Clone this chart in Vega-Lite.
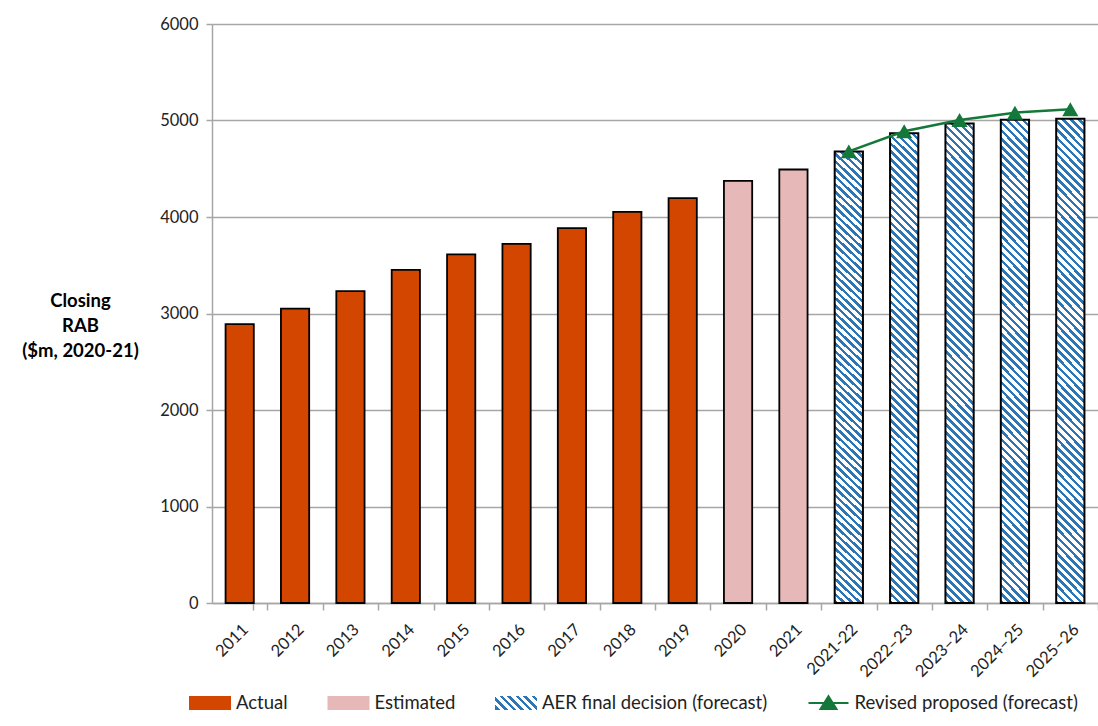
{
  "$schema": "https://vega.github.io/schema/vega-lite/v6.json",
  "width": 886,
  "height": 579,
  "autosize": {"type": "none"},
  "padding": {"left": 212, "top": 24, "right": 0, "bottom": 123},
  "background": "white",
  "config": {
    "view": {"stroke": null},
    "legend": {
      "orient": "none",
      "direction": "horizontal",
      "padding": 0,
      "symbolSize": 1600,
      "symbolStrokeWidth": 2,
      "symbolOpacity": 1,
      "labelFont": "Lato",
      "labelFontSize": 18.5,
      "labelColor": "#222222",
      "labelOffset": 5,
      "labelLimit": 400,
      "columnPadding": 36.5
    }
  },
  "data": {
    "values": [
      {"period": "2011", "value": 2890, "series": "Actual"},
      {"period": "2012", "value": 3050, "series": "Actual"},
      {"period": "2013", "value": 3232, "series": "Actual"},
      {"period": "2014", "value": 3453, "series": "Actual"},
      {"period": "2015", "value": 3612, "series": "Actual"},
      {"period": "2016", "value": 3722, "series": "Actual"},
      {"period": "2017", "value": 3884, "series": "Actual"},
      {"period": "2018", "value": 4054, "series": "Actual"},
      {"period": "2019", "value": 4195, "series": "Actual"},
      {"period": "2020", "value": 4375, "series": "Estimated"},
      {"period": "2021", "value": 4492, "series": "Estimated"},
      {"period": "2021-22", "value": 4679, "series": "AER final decision (forecast)"},
      {"period": "2022–23", "value": 4869, "series": "AER final decision (forecast)"},
      {"period": "2023–24", "value": 4969, "series": "AER final decision (forecast)"},
      {"period": "2024–25", "value": 5007, "series": "AER final decision (forecast)"},
      {"period": "2025–26", "value": 5018, "series": "AER final decision (forecast)"},
      {"period": "2021-22", "value": 4680, "series": "Revised proposed (forecast)"},
      {"period": "2022–23", "value": 4888, "series": "Revised proposed (forecast)"},
      {"period": "2023–24", "value": 5005, "series": "Revised proposed (forecast)"},
      {"period": "2024–25", "value": 5081, "series": "Revised proposed (forecast)"},
      {"period": "2025–26", "value": 5116, "series": "Revised proposed (forecast)"}
    ]
  },
  "encoding": {
    "x": {
      "field": "period",
      "type": "ordinal",
      "sort": ["2011","2012","2013","2014","2015","2016","2017","2018","2019","2020","2021","2021-22","2022–23","2023–24","2024–25","2025–26"],
      "scale": {"paddingInner": 0.49, "paddingOuter": 0.245},
      "axis": {
        "title": null,
        "labelAngle": -45,
        "tickOffset": 27.69,
        "labelOffset": -27.69,
        "tickExtra": true,
        "domainColor": "#a6a6a6",
        "domainWidth": 1.5,
        "tickColor": "#a6a6a6",
        "tickSize": 7,
        "tickWidth": 1.5,
        "labelFont": "Lato",
        "labelFontSize": 16.5,
        "labelColor": "#222222",
        "labelPadding": 11
      }
    },
    "y": {
      "field": "value",
      "type": "quantitative",
      "scale": {"domain": [0, 6000], "nice": false},
      "axis": {
        "title": ["Closing", "RAB", "($m, 2020-21)"],
        "titleAngle": 0,
        "titleFont": "Lato",
        "titleFontSize": 18.5,
        "titleFontWeight": "bold",
        "titleColor": "#000000",
        "titleX": -132,
        "titleY": 276,
        "titleAlign": "center",
        "titleBaseline": "middle",
        "titleLineHeight": 25,
        "values": [0, 1000, 2000, 3000, 4000, 5000, 6000],
        "format": "d",
        "grid": true,
        "gridColor": "#a6a6a6",
        "gridWidth": 1.5,
        "domainColor": "#a6a6a6",
        "domainWidth": 1.5,
        "tickColor": "#a6a6a6",
        "tickSize": 6,
        "tickWidth": 1.5,
        "labelFont": "Lato",
        "labelFontSize": 16.5,
        "labelColor": "#222222",
        "labelPadding": 8
      }
    }
  },
  "layer": [
    {
      "transform": [{"filter": "datum.series === 'Actual' || datum.series === 'Estimated'"}],
      "mark": {"type": "bar", "stroke": "#000000", "strokeWidth": 1.8},
      "encoding": {
        "color": {
          "field": "series",
          "type": "nominal",
          "scale": {
            "domain": ["Actual", "Estimated", "AER final decision (forecast)", "Revised proposed (forecast)"],
            "range": [
              "#d24600",
              "#e6b8b7",
              {"expr": "{gradient: 'linear', x1: 0, y1: 1, x2: 1.1927, y2: 0.6422, stops: [{offset: 0, color: '#2e75b6'}, {offset: 0.0692, color: '#2e75b6'}, {offset: 0.0692, color: '#ffffff'}, {offset: 0.1538, color: '#ffffff'}, {offset: 0.1538, color: '#2e75b6'}, {offset: 0.2231, color: '#2e75b6'}, {offset: 0.2231, color: '#ffffff'}, {offset: 0.3077, color: '#ffffff'}, {offset: 0.3077, color: '#2e75b6'}, {offset: 0.3769, color: '#2e75b6'}, {offset: 0.3769, color: '#ffffff'}, {offset: 0.4615, color: '#ffffff'}, {offset: 0.4615, color: '#2e75b6'}, {offset: 0.5308, color: '#2e75b6'}, {offset: 0.5308, color: '#ffffff'}, {offset: 0.6154, color: '#ffffff'}, {offset: 0.6154, color: '#2e75b6'}, {offset: 0.6846, color: '#2e75b6'}, {offset: 0.6846, color: '#ffffff'}, {offset: 0.7692, color: '#ffffff'}, {offset: 0.7692, color: '#2e75b6'}, {offset: 0.8385, color: '#2e75b6'}, {offset: 0.8385, color: '#ffffff'}, {offset: 0.9231, color: '#ffffff'}, {offset: 0.9231, color: '#2e75b6'}, {offset: 0.9923, color: '#2e75b6'}, {offset: 0.9923, color: '#ffffff'}, {offset: 1, color: '#ffffff'}]}"},
              "#14783a"
            ]
          }
        }
      }
    },
    {
      "transform": [{"filter": "datum.series === 'AER final decision (forecast)'"}],
      "mark": {
        "type": "bar",
        "stroke": "#000000",
        "strokeWidth": 2,
        "fill": {
          "gradient": "linear", "x1": 0, "y1": 1, "x2": 0.0628, "y2": -0.0558,
          "stops": [
            {"offset":0,"color":"#2e75b6"},{"offset":0.0071,"color":"#2e75b6"},{"offset":0.0071,"color":"#fff"},{"offset":0.0159,"color":"#fff"},
            {"offset":0.0159,"color":"#2e75b6"},{"offset":0.0230,"color":"#2e75b6"},{"offset":0.0230,"color":"#fff"},{"offset":0.0317,"color":"#fff"},
            {"offset":0.0317,"color":"#2e75b6"},{"offset":0.0389,"color":"#2e75b6"},{"offset":0.0389,"color":"#fff"},{"offset":0.0476,"color":"#fff"},
            {"offset":0.0476,"color":"#2e75b6"},{"offset":0.0548,"color":"#2e75b6"},{"offset":0.0548,"color":"#fff"},{"offset":0.0635,"color":"#fff"},
            {"offset":0.0635,"color":"#2e75b6"},{"offset":0.0706,"color":"#2e75b6"},{"offset":0.0706,"color":"#fff"},{"offset":0.0794,"color":"#fff"},
            {"offset":0.0794,"color":"#2e75b6"},{"offset":0.0865,"color":"#2e75b6"},{"offset":0.0865,"color":"#fff"},{"offset":0.0952,"color":"#fff"},
            {"offset":0.0952,"color":"#2e75b6"},{"offset":0.1024,"color":"#2e75b6"},{"offset":0.1024,"color":"#fff"},{"offset":0.1111,"color":"#fff"},
            {"offset":0.1111,"color":"#2e75b6"},{"offset":0.1183,"color":"#2e75b6"},{"offset":0.1183,"color":"#fff"},{"offset":0.1270,"color":"#fff"},
            {"offset":0.1270,"color":"#2e75b6"},{"offset":0.1341,"color":"#2e75b6"},{"offset":0.1341,"color":"#fff"},{"offset":0.1429,"color":"#fff"},
            {"offset":0.1429,"color":"#2e75b6"},{"offset":0.1500,"color":"#2e75b6"},{"offset":0.1500,"color":"#fff"},{"offset":0.1587,"color":"#fff"},
            {"offset":0.1587,"color":"#2e75b6"},{"offset":0.1659,"color":"#2e75b6"},{"offset":0.1659,"color":"#fff"},{"offset":0.1746,"color":"#fff"},
            {"offset":0.1746,"color":"#2e75b6"},{"offset":0.1817,"color":"#2e75b6"},{"offset":0.1817,"color":"#fff"},{"offset":0.1905,"color":"#fff"},
            {"offset":0.1905,"color":"#2e75b6"},{"offset":0.1976,"color":"#2e75b6"},{"offset":0.1976,"color":"#fff"},{"offset":0.2063,"color":"#fff"},
            {"offset":0.2063,"color":"#2e75b6"},{"offset":0.2135,"color":"#2e75b6"},{"offset":0.2135,"color":"#fff"},{"offset":0.2222,"color":"#fff"},
            {"offset":0.2222,"color":"#2e75b6"},{"offset":0.2294,"color":"#2e75b6"},{"offset":0.2294,"color":"#fff"},{"offset":0.2381,"color":"#fff"},
            {"offset":0.2381,"color":"#2e75b6"},{"offset":0.2452,"color":"#2e75b6"},{"offset":0.2452,"color":"#fff"},{"offset":0.2540,"color":"#fff"},
            {"offset":0.2540,"color":"#2e75b6"},{"offset":0.2611,"color":"#2e75b6"},{"offset":0.2611,"color":"#fff"},{"offset":0.2698,"color":"#fff"},
            {"offset":0.2698,"color":"#2e75b6"},{"offset":0.2770,"color":"#2e75b6"},{"offset":0.2770,"color":"#fff"},{"offset":0.2857,"color":"#fff"},
            {"offset":0.2857,"color":"#2e75b6"},{"offset":0.2929,"color":"#2e75b6"},{"offset":0.2929,"color":"#fff"},{"offset":0.3016,"color":"#fff"},
            {"offset":0.3016,"color":"#2e75b6"},{"offset":0.3087,"color":"#2e75b6"},{"offset":0.3087,"color":"#fff"},{"offset":0.3175,"color":"#fff"},
            {"offset":0.3175,"color":"#2e75b6"},{"offset":0.3246,"color":"#2e75b6"},{"offset":0.3246,"color":"#fff"},{"offset":0.3333,"color":"#fff"},
            {"offset":0.3333,"color":"#2e75b6"},{"offset":0.3405,"color":"#2e75b6"},{"offset":0.3405,"color":"#fff"},{"offset":0.3492,"color":"#fff"},
            {"offset":0.3492,"color":"#2e75b6"},{"offset":0.3563,"color":"#2e75b6"},{"offset":0.3563,"color":"#fff"},{"offset":0.3651,"color":"#fff"},
            {"offset":0.3651,"color":"#2e75b6"},{"offset":0.3722,"color":"#2e75b6"},{"offset":0.3722,"color":"#fff"},{"offset":0.3810,"color":"#fff"},
            {"offset":0.3810,"color":"#2e75b6"},{"offset":0.3881,"color":"#2e75b6"},{"offset":0.3881,"color":"#fff"},{"offset":0.3968,"color":"#fff"},
            {"offset":0.3968,"color":"#2e75b6"},{"offset":0.4040,"color":"#2e75b6"},{"offset":0.4040,"color":"#fff"},{"offset":0.4127,"color":"#fff"},
            {"offset":0.4127,"color":"#2e75b6"},{"offset":0.4198,"color":"#2e75b6"},{"offset":0.4198,"color":"#fff"},{"offset":0.4286,"color":"#fff"},
            {"offset":0.4286,"color":"#2e75b6"},{"offset":0.4357,"color":"#2e75b6"},{"offset":0.4357,"color":"#fff"},{"offset":0.4444,"color":"#fff"},
            {"offset":0.4444,"color":"#2e75b6"},{"offset":0.4516,"color":"#2e75b6"},{"offset":0.4516,"color":"#fff"},{"offset":0.4603,"color":"#fff"},
            {"offset":0.4603,"color":"#2e75b6"},{"offset":0.4675,"color":"#2e75b6"},{"offset":0.4675,"color":"#fff"},{"offset":0.4762,"color":"#fff"},
            {"offset":0.4762,"color":"#2e75b6"},{"offset":0.4833,"color":"#2e75b6"},{"offset":0.4833,"color":"#fff"},{"offset":0.4921,"color":"#fff"},
            {"offset":0.4921,"color":"#2e75b6"},{"offset":0.4992,"color":"#2e75b6"},{"offset":0.4992,"color":"#fff"},{"offset":0.5079,"color":"#fff"},
            {"offset":0.5079,"color":"#2e75b6"},{"offset":0.5151,"color":"#2e75b6"},{"offset":0.5151,"color":"#fff"},{"offset":0.5238,"color":"#fff"},
            {"offset":0.5238,"color":"#2e75b6"},{"offset":0.5310,"color":"#2e75b6"},{"offset":0.5310,"color":"#fff"},{"offset":0.5397,"color":"#fff"},
            {"offset":0.5397,"color":"#2e75b6"},{"offset":0.5468,"color":"#2e75b6"},{"offset":0.5468,"color":"#fff"},{"offset":0.5556,"color":"#fff"},
            {"offset":0.5556,"color":"#2e75b6"},{"offset":0.5627,"color":"#2e75b6"},{"offset":0.5627,"color":"#fff"},{"offset":0.5714,"color":"#fff"},
            {"offset":0.5714,"color":"#2e75b6"},{"offset":0.5786,"color":"#2e75b6"},{"offset":0.5786,"color":"#fff"},{"offset":0.5873,"color":"#fff"},
            {"offset":0.5873,"color":"#2e75b6"},{"offset":0.5944,"color":"#2e75b6"},{"offset":0.5944,"color":"#fff"},{"offset":0.6032,"color":"#fff"},
            {"offset":0.6032,"color":"#2e75b6"},{"offset":0.6103,"color":"#2e75b6"},{"offset":0.6103,"color":"#fff"},{"offset":0.6190,"color":"#fff"},
            {"offset":0.6190,"color":"#2e75b6"},{"offset":0.6262,"color":"#2e75b6"},{"offset":0.6262,"color":"#fff"},{"offset":0.6349,"color":"#fff"},
            {"offset":0.6349,"color":"#2e75b6"},{"offset":0.6421,"color":"#2e75b6"},{"offset":0.6421,"color":"#fff"},{"offset":0.6508,"color":"#fff"},
            {"offset":0.6508,"color":"#2e75b6"},{"offset":0.6579,"color":"#2e75b6"},{"offset":0.6579,"color":"#fff"},{"offset":0.6667,"color":"#fff"},
            {"offset":0.6667,"color":"#2e75b6"},{"offset":0.6738,"color":"#2e75b6"},{"offset":0.6738,"color":"#fff"},{"offset":0.6825,"color":"#fff"},
            {"offset":0.6825,"color":"#2e75b6"},{"offset":0.6897,"color":"#2e75b6"},{"offset":0.6897,"color":"#fff"},{"offset":0.6984,"color":"#fff"},
            {"offset":0.6984,"color":"#2e75b6"},{"offset":0.7056,"color":"#2e75b6"},{"offset":0.7056,"color":"#fff"},{"offset":0.7143,"color":"#fff"},
            {"offset":0.7143,"color":"#2e75b6"},{"offset":0.7214,"color":"#2e75b6"},{"offset":0.7214,"color":"#fff"},{"offset":0.7302,"color":"#fff"},
            {"offset":0.7302,"color":"#2e75b6"},{"offset":0.7373,"color":"#2e75b6"},{"offset":0.7373,"color":"#fff"},{"offset":0.7460,"color":"#fff"},
            {"offset":0.7460,"color":"#2e75b6"},{"offset":0.7532,"color":"#2e75b6"},{"offset":0.7532,"color":"#fff"},{"offset":0.7619,"color":"#fff"},
            {"offset":0.7619,"color":"#2e75b6"},{"offset":0.7690,"color":"#2e75b6"},{"offset":0.7690,"color":"#fff"},{"offset":0.7778,"color":"#fff"},
            {"offset":0.7778,"color":"#2e75b6"},{"offset":0.7849,"color":"#2e75b6"},{"offset":0.7849,"color":"#fff"},{"offset":0.7937,"color":"#fff"},
            {"offset":0.7937,"color":"#2e75b6"},{"offset":0.8008,"color":"#2e75b6"},{"offset":0.8008,"color":"#fff"},{"offset":0.8095,"color":"#fff"},
            {"offset":0.8095,"color":"#2e75b6"},{"offset":0.8167,"color":"#2e75b6"},{"offset":0.8167,"color":"#fff"},{"offset":0.8254,"color":"#fff"},
            {"offset":0.8254,"color":"#2e75b6"},{"offset":0.8325,"color":"#2e75b6"},{"offset":0.8325,"color":"#fff"},{"offset":0.8413,"color":"#fff"},
            {"offset":0.8413,"color":"#2e75b6"},{"offset":0.8484,"color":"#2e75b6"},{"offset":0.8484,"color":"#fff"},{"offset":0.8571,"color":"#fff"},
            {"offset":0.8571,"color":"#2e75b6"},{"offset":0.8643,"color":"#2e75b6"},{"offset":0.8643,"color":"#fff"},{"offset":0.8730,"color":"#fff"},
            {"offset":0.8730,"color":"#2e75b6"},{"offset":0.8802,"color":"#2e75b6"},{"offset":0.8802,"color":"#fff"},{"offset":0.8889,"color":"#fff"},
            {"offset":0.8889,"color":"#2e75b6"},{"offset":0.8960,"color":"#2e75b6"},{"offset":0.8960,"color":"#fff"},{"offset":0.9048,"color":"#fff"},
            {"offset":0.9048,"color":"#2e75b6"},{"offset":0.9119,"color":"#2e75b6"},{"offset":0.9119,"color":"#fff"},{"offset":0.9206,"color":"#fff"},
            {"offset":0.9206,"color":"#2e75b6"},{"offset":0.9278,"color":"#2e75b6"},{"offset":0.9278,"color":"#fff"},{"offset":0.9365,"color":"#fff"},
            {"offset":0.9365,"color":"#2e75b6"},{"offset":0.9437,"color":"#2e75b6"},{"offset":0.9437,"color":"#fff"},{"offset":0.9524,"color":"#fff"},
            {"offset":0.9524,"color":"#2e75b6"},{"offset":0.9595,"color":"#2e75b6"},{"offset":0.9595,"color":"#fff"},{"offset":0.9683,"color":"#fff"},
            {"offset":0.9683,"color":"#2e75b6"},{"offset":0.9754,"color":"#2e75b6"},{"offset":0.9754,"color":"#fff"},{"offset":0.9841,"color":"#fff"},
            {"offset":0.9841,"color":"#2e75b6"},{"offset":0.9913,"color":"#2e75b6"},{"offset":0.9913,"color":"#fff"},{"offset":1,"color":"#fff"}
          ]
        }
      }
    },
    {
      "transform": [{"filter": "datum.series === 'Revised proposed (forecast)'"}],
      "mark": {
        "type": "line",
        "strokeWidth": 2.5,
        "point": {"shape": "triangle-up", "size": 260, "filled": true, "opacity": 1}
      },
      "encoding": {
        "color": {"field": "series", "type": "nominal"}
      }
    },
    {
      "mark": {"type": "point", "filled": true, "opacity": 0},
      "encoding": {
        "color": {
          "field": "series",
          "type": "nominal",
          "legend": {
            "title": null,
            "orient": "none",
            "legendX": -23,
            "legendY": 658,
            "direction": "horizontal"
          }
        },
        "shape": {
          "field": "series",
          "type": "nominal",
          "scale": {
            "domain": ["Actual", "Estimated", "AER final decision (forecast)", "Revised proposed (forecast)"],
            "range": ["M-1,-0.3H1V0.3H-1Z", "M-1,-0.3H1V0.3H-1Z", "M-1,-0.3H1V0.3H-1Z", "M-1,0H1M0,-0.34L0.4,0.3H-0.4Z"]
          },
          "legend": {
            "title": null,
            "orient": "none",
            "legendX": -23,
            "legendY": 658,
            "direction": "horizontal"
          }
        },
        "stroke": {
          "field": "series",
          "type": "nominal",
          "scale": {
            "domain": ["Actual", "Estimated", "AER final decision (forecast)", "Revised proposed (forecast)"],
            "range": ["#000000", "#000000", "#000000", "#14783a"]
          },
          "legend": {
            "title": null,
            "orient": "none",
            "legendX": -23,
            "legendY": 658,
            "direction": "horizontal"
          }
        }
      }
    }
  ]
}
